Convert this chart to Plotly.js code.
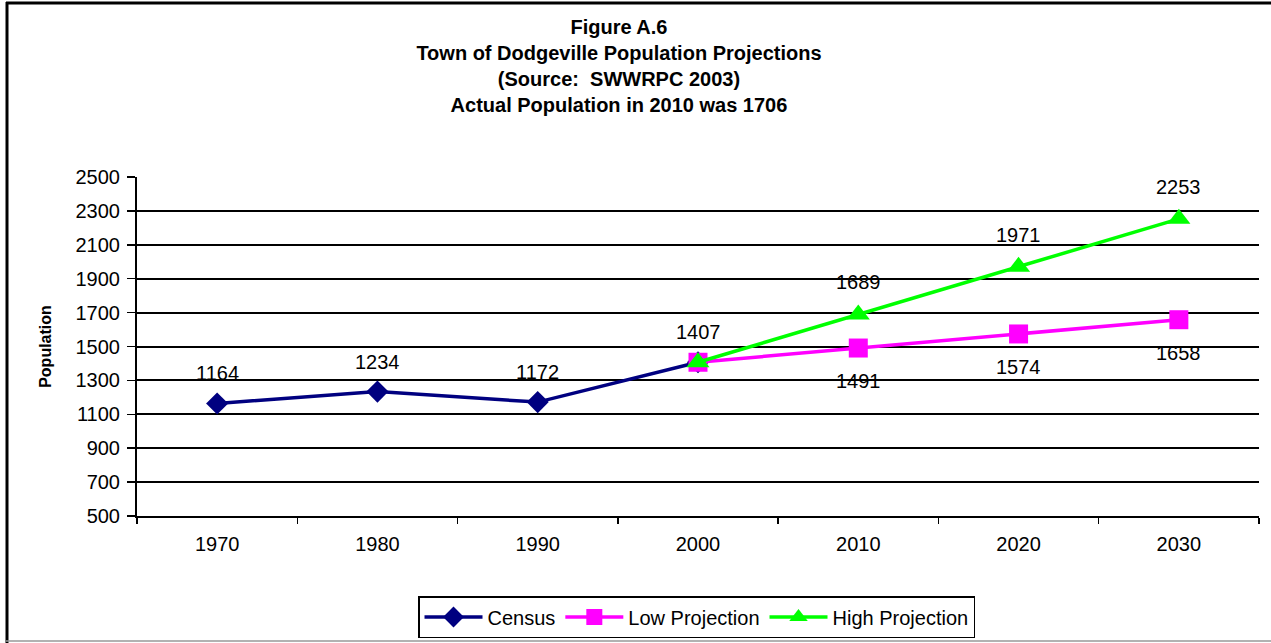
<!DOCTYPE html>
<html>
<head>
<meta charset="utf-8">
<script src="https://cdn.plot.ly/plotly-3.0.1.min.js"></script>
<style>html,body{margin:0;padding:0;background:#fff;}#chart{width:1271px;height:643px;}</style>
</head>
<body>
<div id="chart"></div>
<script>
const years = ['1970','1980','1990','2000','2010','2020','2030'];
const censusYears = ['1970','1980','1990','2000'];
const censusValues = [1164, 1234, 1172, 1407];
const projYears = ['2000','2010','2020','2030'];
const lowValues = [1407, 1491, 1574, 1658];
const highValues = [1407, 1689, 1971, 2253];
const yTicks = [500,700,900,1100,1300,1500,1700,1900,2100,2300,2500];

const FONT = 'Liberation Sans, Arial, sans-serif';

const traces = [
  {x: censusYears, y: censusValues, name: 'Census', mode: 'lines+markers',
   line: {color: '#000080', width: 3.5},
   marker: {symbol: 'diamond', size: 17, color: '#000080'}},
  {x: projYears, y: lowValues, name: 'Low Projection', mode: 'lines+markers',
   line: {color: '#FF00FF', width: 3.5},
   marker: {symbol: 'square', size: 19, color: '#FF00FF'}},
  {x: projYears, y: highValues, name: 'High Projection', mode: 'lines+markers',
   line: {color: '#00FF00', width: 3.5},
   marker: {symbol: 'triangle-up', size: 20, color: '#00FF00'}}
];

const annotations = [];
function addLabels(xs, ys, shift, skipFirst) {
  xs.forEach((x, i) => {
    if (skipFirst && i === 0) return;
    annotations.push({x: years.indexOf(x), y: ys[i], xref: 'x', yref: 'y', text: String(ys[i]),
      showarrow: false, yshift: shift, font: {family: FONT, size: 20, color: '#000'}});
  });
}
addLabels(censusYears, censusValues, 30, false);
addLabels(projYears, lowValues, -33, true);
addLabels(projYears, highValues, 32, true);

const layout = {
  width: 1271, height: 643,
  margin: {l: 137, r: 12, t: 177, b: 127},
  paper_bgcolor: '#fff', plot_bgcolor: '#fff',
  font: {family: FONT, color: '#000'},
  title: {
    text: '<b>Figure A.6<br>Town of Dodgeville Population Projections<br>(Source:  SWWRPC 2003)<br>Actual Population in 2010 was 1706</b>',
    font: {family: FONT, size: 20, color: '#000'},
    xref: 'container', x: 0.487, xanchor: 'center',
    yref: 'container', y: 1 - 34/643, yanchor: 'top'
  },
  xaxis: {
    type: 'category', categoryarray: years, categoryorder: 'array',
    range: [-0.5, 6.5], tickson: 'boundaries', ticks: 'outside', ticklen: 6,
    tickcolor: '#000', tickwidth: 1.5, ticklabelstandoff: 9,
    showline: true, linecolor: '#000', linewidth: 2, showgrid: false,
    tickfont: {family: FONT, size: 20, color: '#000'}, zeroline: false, fixedrange: true
  },
  yaxis: {
    range: [500, 2500], tickvals: yTicks, ticks: 'outside', ticklen: 8,
    tickcolor: '#000', tickwidth: 1.5, ticklabelstandoff: 3,
    showline: true, linecolor: '#000', linewidth: 2,
    showgrid: true, gridcolor: '#000', gridwidth: 2, zeroline: false,
    tickfont: {family: FONT, size: 20, color: '#000'},
    title: {text: '<b>Population</b>', font: {family: FONT, size: 16, color: '#000'}, standoff: 20},
    fixedrange: true
  },
  showlegend: true,
  legend: {
    orientation: 'h', xref: 'container', yref: 'container',
    x: 0.548, xanchor: 'center', y: 1 - 617/643, yanchor: 'middle',
    bordercolor: '#000', borderwidth: 1.5, bgcolor: '#fff',
    font: {family: FONT, size: 20, color: '#000'},
    itemwidth: 58
  },
  annotations: annotations,
  shapes: [
    {type: 'line', xref: 'paper', yref: 'paper', x0: (6-137)/1122, x1: (1271-137)/1122, y0: (516-3)/339, y1: (516-3)/339, line: {color: '#000', width: 3}},
    {type: 'line', xref: 'paper', yref: 'paper', x0: (7-137)/1122, x1: (7-137)/1122, y0: (516-2)/339, y1: (516-643)/339, line: {color: '#000', width: 3}},
    {type: 'line', xref: 'paper', yref: 'paper', x0: (6-137)/1122, x1: (1271-137)/1122, y0: (516-641)/339, y1: (516-641)/339, line: {color: '#999', width: 1.5}}
  ]
};

Plotly.newPlot('chart', traces, layout, {displayModeBar: false, staticPlot: true});
</script>
</body>
</html>
